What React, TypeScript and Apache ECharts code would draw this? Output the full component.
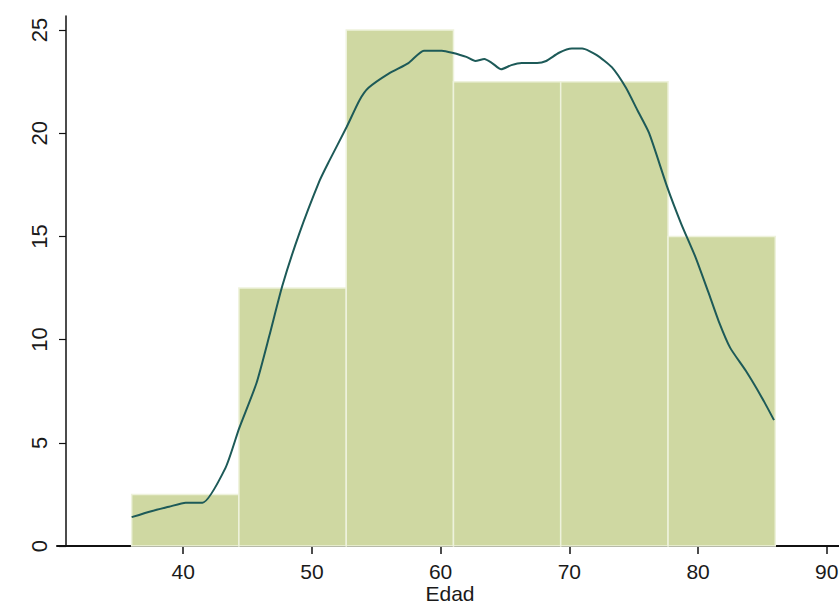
import React, { useEffect, useRef } from "react";
import * as echarts from "echarts";

// Histogram bins (Edad) and heights (percent)
const binEdges = [36, 44.33, 52.67, 61, 69.33, 77.67, 86];
const binPercent = [2.5, 12.5, 25, 22.5, 22.5, 15];

// Density curve (scaled)
const densityX = [
  36.0, 37.6, 38.9, 40.2, 41.5, 43.3, 44.35, 45.7, 46.7, 47.7, 49.0, 50.6, 51.3,
  52.7, 53.7, 54.4, 56.0, 57.5, 58.7, 60.1, 60.9, 62.0, 62.7, 63.4, 64.0, 64.7,
  65.5, 66.3, 67.5, 68.2, 69.2, 70.2, 71.0, 72.1, 73.3, 74.4, 75.3, 76.2, 77.6,
  78.7, 79.8, 80.8, 81.6, 82.5, 83.7, 84.95, 85.9,
];
const densityY = [
  1.4, 1.7, 1.9, 2.1, 2.1, 3.8, 5.7, 7.9, 10.2, 12.6, 15.1, 17.7, 18.6,
  20.3, 21.6, 22.2, 22.9, 23.4, 24.0, 24.0, 23.9, 23.7, 23.5, 23.6, 23.4, 23.1,
  23.3, 23.4, 23.4, 23.5, 23.9, 24.1, 24.1, 23.8, 23.2, 22.2, 21.1, 20.0, 17.4,
  15.6, 14.0, 12.3, 10.9, 9.6, 8.5, 7.2, 6.1,
];

const xTicks = [40, 50, 60, 70, 80, 90];
const yTicks = [0, 5, 10, 15, 20, 25];
const xAxisTitle = "Edad";

const FONT = "'Liberation Sans', Arial, Helvetica, sans-serif";

export default function App() {
  const ref = useRef<HTMLDivElement>(null);

  useEffect(() => {
    if (!ref.current) return;
    const chart = echarts.init(ref.current, undefined, { renderer: "svg" });

    const histData = binPercent.map((h, i) => [binEdges[i], binEdges[i + 1], h]);
    const lineData = densityX.map((x, i) => [x, densityY[i]]);

    chart.setOption({
      animation: false,
      backgroundColor: "#ffffff",
      grid: {
        left: 57,
        right: 0,
        top: 16,
        bottom: 59,
        containLabel: false,
        outerBoundsMode: "none",
      },
      graphic: [
        {
          type: "text",
          x: 450,
          y: 583,
          style: {
            text: xAxisTitle,
            fontFamily: FONT,
            fontSize: 21,
            fill: "#1a1a1a",
            align: "center",
            verticalAlign: "top",
          },
        },
      ],
      xAxis: {
        type: "value",
        min: 30.2,
        max: 90.95,
        splitLine: { show: false },
        axisLine: { show: true, onZero: false, lineStyle: { color: "#111", width: 2 } },
        axisTick: {
          show: true,
          length: 8,
          customValues: xTicks,
          lineStyle: { color: "#111", width: 1.5 },
        },
        axisLabel: {
          customValues: xTicks,
          margin: 15,
          fontFamily: FONT,
          fontSize: 21,
          color: "#1a1a1a",
        },
      },
      yAxis: {
        type: "value",
        min: 0,
        max: 25.68,
        offset: -9,
        splitLine: { show: false },
        axisLine: { show: true, lineStyle: { color: "#111", width: 1.5 } },
        axisTick: {
          show: true,
          length: 7,
          customValues: yTicks,
          lineStyle: { color: "#111", width: 1.2 },
        },
        axisLabel: {
          customValues: yTicks,
          rotate: 90,
          margin: 16,
          fontFamily: FONT,
          fontSize: 22,
          color: "#1a1a1a",
        },
      },
      series: [
        {
          type: "custom",
          data: histData,
          encode: { x: [0, 1], y: 2 },
          z: 1,
          renderItem: (params: any, api: any) => {
            const x0 = api.value(0);
            const x1 = api.value(1);
            const h = api.value(2);
            const p0 = api.coord([x0, h]);
            const p1 = api.coord([x1, 0]);
            return {
              type: "rect",
              shape: { x: p0[0], y: p0[1], width: p1[0] - p0[0], height: p1[1] - p0[1] },
              style: { fill: "#cfd8a2", stroke: "#eef2dc", lineWidth: 1.5 },
            };
          },
        },
        {
          type: "line",
          data: lineData,
          z: 3,
          smooth: 0.2,
          showSymbol: false,
          symbol: "none",
          lineStyle: { color: "#1d5a58", width: 2 },
        },
      ],
    });

    return () => chart.dispose();
  }, []);

  return (
    <div
      ref={ref}
      style={{ position: "absolute", left: 0, top: 0, width: 839, height: 605 }}
    />
  );
}
